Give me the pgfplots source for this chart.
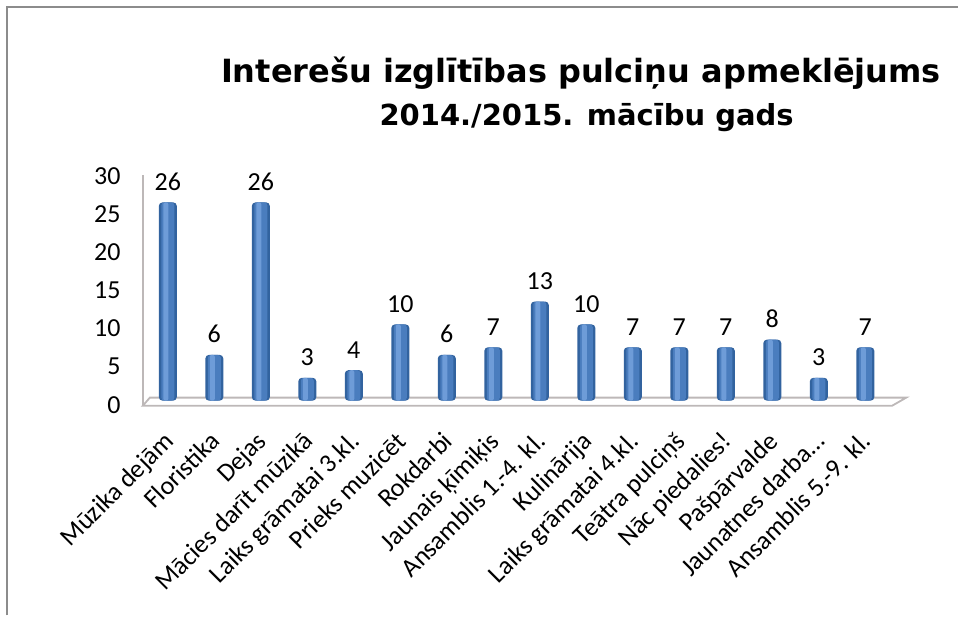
\documentclass[border=0pt]{standalone}
\usepackage{pgfplots}
\pgfplotsset{compat=1.18}
\usepackage{fontspec}
\setmainfont{Carlito}
\newfontfamily\titlefont{DejaVu Sans}

\definecolor{bardark}{HTML}{32639F}
\definecolor{barmid}{HTML}{4A7DBE}
\definecolor{barlight}{HTML}{6E9CD8}
\definecolor{floorc}{HTML}{BDB8B8}
\definecolor{framec}{HTML}{8C8C8C}

\pgfplotstableread{
x  v
0  26
1  6
2  26
3  3
4  4
5  10
6  6
7  7
8  13
9  10
10 7
11 7
12 7
13 8
14 3
15 7
}\pulcini

\begin{document}
\begin{tikzpicture}
\begin{scope}[x=0.5pt,y=0.5pt]
  \path (0,0) rectangle (959,616);
  \draw[framec, line width=0.8pt] (7,0) -- (7,609) -- (959,609);
  \node[font=\titlefont\bfseries\fontsize{16}{19}\selectfont] at (581.5,543) {Interešu izglītības pulciņu apmeklējums};
  \node[font=\titlefont\bfseries\fontsize{14.5}{17}\selectfont] at (587,498) {2014./2015. mācību gads};
\end{scope}
\begin{axis}[
  at={(72.35pt,105.5pt)}, anchor=south west,
  scale only axis, width=372.3pt, height=114.5pt,
  xmin=-0.5, xmax=15.5, ymin=0, ymax=30,
  axis line style={draw=none},
  set layers, clip=false,
  ytick={0,5,10,15,20,25,30}, xtick={0,1,2,3,4,5,6,7,8,9,10,11,12,13,14,15},
  xticklabels={{Mūzika dejām},{Floristika},{Dejas},{Mācies darīt mūzikā},{Laiks grāmatai 3.kl.},{Prieks muzicēt},{Rokdarbi},{Jaunais ķīmiķis},{Ansamblis 1.-4. kl.},{Kulinārija},{Laiks grāmatai 4.kl.},{Teātra pulciņš},{Nāc piedalies!},{Pašpārvalde},{Jaunatnes darba…},{Ansamblis 5.-9. kl.}},
  major tick length=0pt,
  tick label style={font=\fontsize{13}{15}\selectfont},
  yticklabel style={xshift=-8.5pt},
  % shifts first, so they act on the page, then the rotation
  xticklabel style={xshift=-2.8pt, yshift=-12.5pt, rotate=45, anchor=north east, inner sep=0pt},
  /pgf/number format/assume math mode=true,
  ybar, bar width=9pt,
]
\begin{pgfonlayer}{axis background}
  \draw[floorc, line width=0.9pt, fill=white] (axis cs:-0.537,-0.13) -- (axis cs:15.58,-0.13) -- (axis cs:15.88,0.92) -- (axis cs:-0.387,0.92) -- cycle;
  \draw[floorc, line width=0.9pt] (axis cs:-0.537,-0.13) -- (axis cs:-0.537,30.1);
\end{pgfonlayer}
% cylinder look: dark body, mid core, light stripe
\addplot[draw=none, fill=bardark, bar width=9pt, bar shift=0pt, rounded corners=1.8pt, yshift=2pt] table[x=x,y=v] {\pulcini};
\addplot[draw=none, fill=barmid, bar width=6.5pt, bar shift=0pt, rounded corners=1.5pt, yshift=2pt] table[x=x,y=v] {\pulcini};
\addplot[draw=none, fill=barlight, bar width=2.5pt, bar shift=-1pt, rounded corners=1pt, yshift=2pt,
  nodes near coords, nodes near coords style={font=\fontsize{13}{15}\selectfont, text=black, xshift=1pt, yshift=2.5pt}] table[x=x,y=v] {\pulcini};
\end{axis}
\end{tikzpicture}
\end{document}
